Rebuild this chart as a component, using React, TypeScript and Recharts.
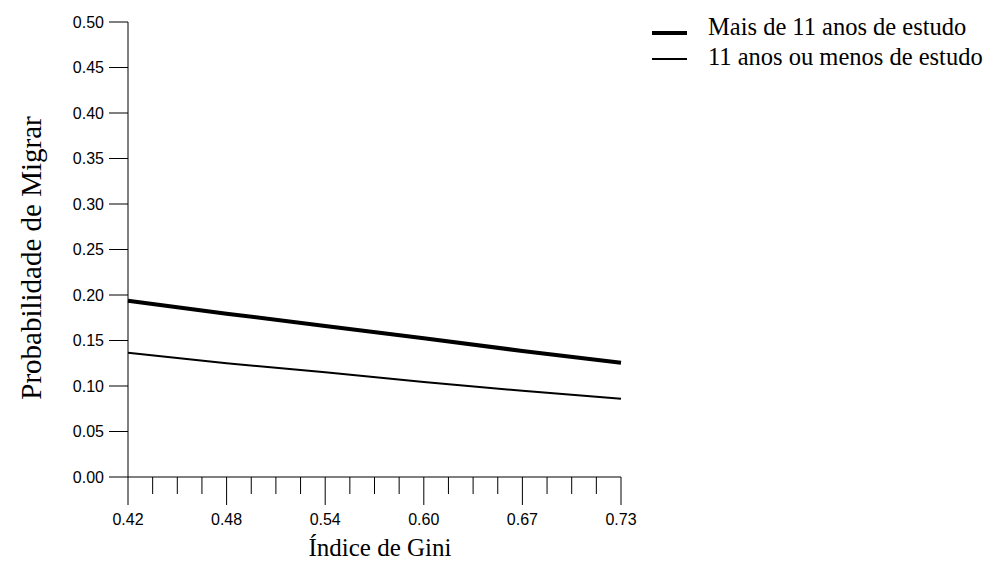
import React from 'react';
import { LineChart, Line, XAxis, YAxis, Label } from 'recharts';

const giniPoints = [0.42, 0.482, 0.544, 0.606, 0.668, 0.73];
const maisDe11 = [0.1937, 0.1795, 0.166, 0.1524, 0.1385, 0.1256];
const onzeOuMenos = [0.1366, 0.125, 0.115, 0.1044, 0.0948, 0.086];

const xTicks = [0.42, 0.4355, 0.451, 0.4665, 0.482, 0.4975, 0.513, 0.5285, 0.544, 0.5595, 0.575, 0.5905, 0.606, 0.6215, 0.637, 0.6525, 0.668, 0.6835, 0.699, 0.7145, 0.73];
const xMajorLabels = ['0.42', '0.48', '0.54', '0.60', '0.67', '0.73'];
const yTicks = [0, 0.05, 0.1, 0.15, 0.2, 0.25, 0.3, 0.35, 0.4, 0.45, 0.5];

const seriesNames = ['Mais de 11 anos de estudo', '11 anos ou menos de estudo'];
const seriesWidths = [4, 2];

const data = giniPoints.map((g, i) => ({ gini: g, a: maisDe11[i], b: onzeOuMenos[i] }));

const SANS = '"Liberation Sans", Arial, sans-serif';
const SERIF = '"Liberation Serif", "Times New Roman", serif';

const XTick = (props: any) => {
  const { x, y, index } = props;
  const major = index % 4 === 0;
  return (
    <g>
      <line x1={x} x2={x} y1={y} y2={y + (major ? 28 : 17)} stroke="#000" strokeWidth={1} />
      {major && (
        <text x={x} y={y + 48} textAnchor="middle" fontFamily={SANS} fontSize={16} fill="#000">
          {xMajorLabels[index / 4]}
        </text>
      )}
    </g>
  );
};

const LegendOverlay = () => (
  <svg width={360} height={80} style={{ position: 'absolute', left: 644, top: 0 }}>
    {seriesNames.map((n, i) => (
      <g key={n}>
        <line x1={8} x2={43} y1={33 + i * 26} y2={33 + i * 26} stroke="#000" strokeWidth={seriesWidths[i]} />
        <text x={64} y={35 + i * 30} fontFamily={SERIF} fontSize={24.5} fill="#000">{n}</text>
      </g>
    ))}
  </svg>
);

export default function App() {
  return (
    <div style={{ position: 'absolute', left: 0, top: 0, width: 1004, height: 562, background: '#fff' }}>
      <LineChart width={1004} height={562} data={data} margin={{ top: 22, right: 383, bottom: 0, left: 0 }}>
        <XAxis
          dataKey="gini"
          type="number"
          domain={[0.42, 0.73]}
          ticks={xTicks}
          interval={0}
          tickSize={0}
          tickMargin={0}
          tickLine={false}
          tick={<XTick />}
          height={85}
          axisLine={{ stroke: '#000' }}
        >
          <Label
            content={() => (
              <text x={380} y={556} textAnchor="middle" fontFamily={SERIF} fontSize={25} fill="#000">
                Índice de Gini
              </text>
            )}
          />
        </XAxis>
        <YAxis
          type="number"
          domain={[0, 0.5]}
          ticks={yTicks}
          interval={0}
          width={128}
          tickSize={19}
          tickMargin={5}
          tickFormatter={(v: number) => v.toFixed(2)}
          tick={{ fontFamily: SANS, fontSize: 16, fill: '#000' }}
          tickLine={{ stroke: '#000' }}
          axisLine={{ stroke: '#000' }}
        >
          <Label
            content={() => (
              <text x={41} y={258} textAnchor="middle" fontFamily={SERIF} fontSize={29} fill="#000" transform="rotate(-90 41 258)">
                Probabilidade de Migrar
              </text>
            )}
          />
        </YAxis>
        <Line dataKey="a" name={seriesNames[0]} stroke="#000" strokeWidth={4} dot={false} isAnimationActive={false} />
        <Line dataKey="b" name={seriesNames[1]} stroke="#000" strokeWidth={2} dot={false} isAnimationActive={false} />
      </LineChart>
      <LegendOverlay />
    </div>
  );
}
